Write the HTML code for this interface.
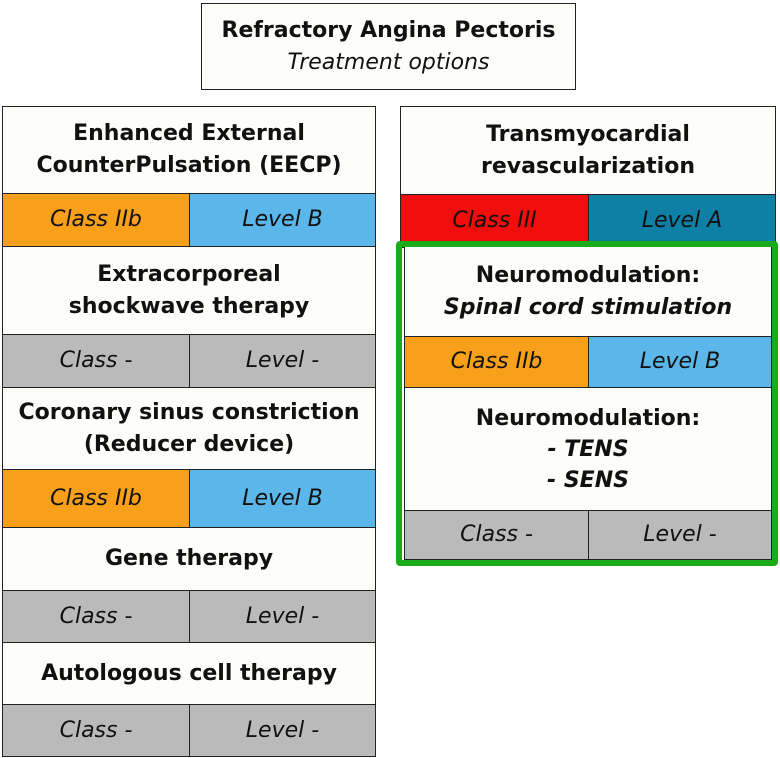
<!DOCTYPE html>
<html><head><meta charset="utf-8"><style>
body{margin:0;width:780px;height:758px;background:#fff;position:relative;overflow:hidden;font-family:"DejaVu Sans","Liberation Sans",sans-serif;}
.b{position:absolute;box-sizing:border-box;border:1.5px solid #222;display:flex;align-items:center;justify-content:center;text-align:center;font-size:22px;line-height:32px;color:#111;}
.h{background:#fdfdf9;font-weight:bold;}
.c{font-style:italic;}
.o{background:#f9a01a;}.bl{background:#5bb6ea;}.g{background:#bababa;}.r{background:#f20d0d;}.t{background:#0e80a5;}
</style></head><body>
<div class="b h" style="left:201px;top:3px;width:375px;height:87px;"><div>Refractory Angina Pectoris<br><span style="font-weight:normal;font-style:italic">Treatment options</span></div></div>

<div class="b h" style="left:2px;top:106px;width:374px;height:88px"><div>Enhanced External<br>CounterPulsation (EECP)</div></div>
<div class="b c o" style="left:2px;top:193px;width:188px;height:54px">Class IIb</div>
<div class="b c bl" style="left:189px;top:193px;width:187px;height:54px">Level B</div>
<div class="b h" style="left:2px;top:246px;width:374px;height:89px"><div>Extracorporeal<br>shockwave therapy</div></div>
<div class="b c g" style="left:2px;top:334px;width:188px;height:54px">Class -</div>
<div class="b c g" style="left:189px;top:334px;width:187px;height:54px">Level -</div>
<div class="b h" style="left:2px;top:387px;width:374px;height:83px"><div>Coronary sinus constriction<br>(Reducer device)</div></div>
<div class="b c o" style="left:2px;top:469px;width:188px;height:59px">Class IIb</div>
<div class="b c bl" style="left:189px;top:469px;width:187px;height:59px">Level B</div>
<div class="b h" style="left:2px;top:527px;width:374px;height:64px">Gene therapy</div>
<div class="b c g" style="left:2px;top:590px;width:188px;height:53px">Class -</div>
<div class="b c g" style="left:189px;top:590px;width:187px;height:53px">Level -</div>
<div class="b h" style="left:2px;top:642px;width:374px;height:63px">Autologous cell therapy</div>
<div class="b c g" style="left:2px;top:704px;width:188px;height:53px">Class -</div>
<div class="b c g" style="left:189px;top:704px;width:187px;height:53px">Level -</div>

<div class="b h" style="left:400px;top:106px;width:376px;height:89px"><div>Transmyocardial<br>revascularization</div></div>
<div class="b c r" style="left:400px;top:194px;width:189px;height:54px">Class III</div>
<div class="b c t" style="left:588px;top:194px;width:188px;height:54px">Level A</div>

<div class="b h" style="left:404px;top:246px;width:368px;height:91px"><div>Neuromodulation:<br><i>Spinal cord stimulation</i></div></div>
<div class="b c o" style="left:404px;top:336px;width:185px;height:52px">Class IIb</div>
<div class="b c bl" style="left:588px;top:336px;width:184px;height:52px">Level B</div>
<div class="b h" style="left:404px;top:387px;width:368px;height:124px;line-height:31px"><div>Neuromodulation:<br><i>- TENS<br>- SENS</i></div></div>
<div class="b c g" style="left:404px;top:510px;width:185px;height:50px">Class -</div>
<div class="b c g" style="left:588px;top:510px;width:184px;height:50px">Level -</div>
<div style="position:absolute;left:396px;top:241px;width:382px;height:325px;box-sizing:border-box;border:6px solid #1aab1a;border-radius:4px"></div>
</body></html>
